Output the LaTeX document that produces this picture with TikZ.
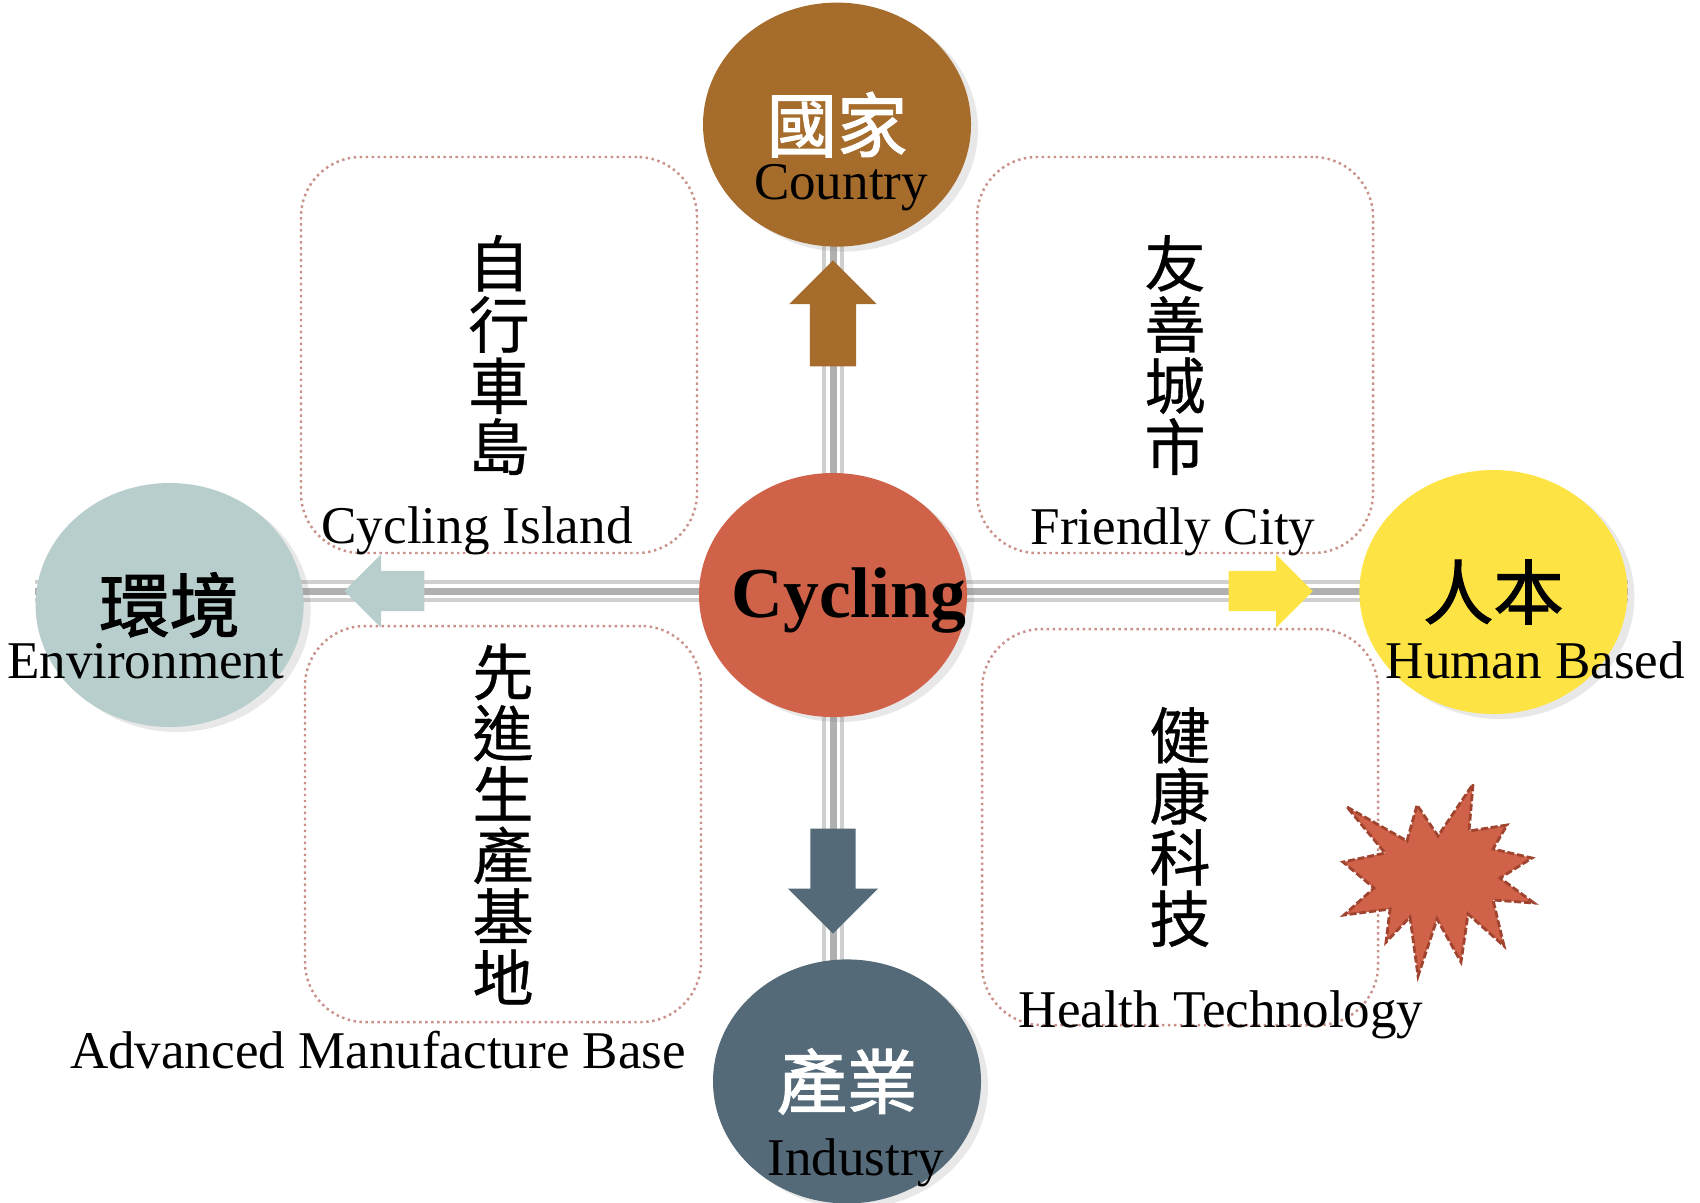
\documentclass[tikz,border=0pt]{standalone}
\usepackage{fontspec}
\setmainfont{Liberation Serif}
\newfontfamily\cjk[FakeBold=0.6]{Noto Sans CJK TC}
\newfontfamily\cjkhub[FakeBold=1.6]{Noto Sans CJK TC}
\usepackage{tikz}
\usetikzlibrary{shapes, shapes.geometric, shapes.arrows, arrows.meta, positioning, backgrounds, shadows}

\definecolor{countrybrown}{RGB}{166,108,44}
\definecolor{cyclingred}{RGB}{207,98,73}
\definecolor{envteal}{RGB}{183,206,205}
\definecolor{humanyellow}{RGB}{253,228,68}
\definecolor{industryslate}{RGB}{84,106,120}
\definecolor{boxline}{RGB}{200,146,138}
\definecolor{burstline}{RGB}{160,68,48}

\tikzset{
    hub/.style={ellipse, minimum width=26.8mm, minimum height=24.4mm, inner sep=0pt,
        font=\cjkhub\fontsize{20}{20}\selectfont,
        drop shadow={shadow xshift=0.7mm, shadow yshift=-0.5mm, opacity=0.18}},
    en/.style={font=\fontsize{15.1}{15.1}\selectfont, anchor=base, inner sep=0pt},
    pillar/.style={draw=boxline, densely dotted, line width=0.7pt, rounded corners=6mm,
        minimum width=39.6mm, minimum height=39.6mm, inner sep=0pt, align=center,
        font=\cjk\fontsize{17.4}{17.4}\selectfont},
    track/.style={draw=gray!38, line width=6.2pt,
        postaction={draw=white, line width=4pt},
        postaction={draw=gray!62, line width=2pt}},
    push/.style={single arrow, single arrow head indent=0pt, anchor=tail},
    burst/.style={fill=cyclingred, draw=burstline, line width=0.8pt, dash pattern=on 2pt off 0.8pt}
}

\begin{document}
\begin{tikzpicture}[x=0.1mm, y=-0.1mm]
    \useasboundingbox (0,0) rectangle (1700,1202);

    % centre and the four directions
    \node [hub, fill=cyclingred] (Cycling) at (833,595) {};
    \node [hub, fill=countrybrown, text=white, above=2.25cm of Cycling, xshift=0.4mm] (Country) {國家};
    \node [hub, fill=industryslate, text=white, below=2.41cm of Cycling, xshift=1.4mm] (Industry) {產業};
    \node [hub, fill=envteal, left=3.94cm of Cycling, yshift=-1mm] (Env) {環境};
    \node [hub, fill=humanyellow, right=3.91cm of Cycling, yshift=0.3mm] (Human) {人本};

    \node [en, font=\bfseries\fontsize{20.4}{20.4}\selectfont] at ([xshift=1.6mm, yshift=-2.2mm]Cycling.center) {Cycling};
    \node [en] at ([xshift=0.4mm, yshift=-7.5mm]Country.center) {Country};
    \node [en] at ([xshift=0.9mm, yshift=-9.4mm]Industry.center) {Industry};
    \node [en] at ([xshift=-2.4mm, yshift=-7.3mm]Env.center) {Environment};
    \node [en] at ([xshift=4.2mm, yshift=-8.6mm]Human.center) {Human Based};

    % block arrows on the tracks
    \node [push, fill=countrybrown, shape border rotate=90, minimum height=10.6mm,
        inner sep=2.25mm, single arrow head extend=2.05mm] (UpArrow) at (833,367) {};
    \node [push, fill=industryslate, shape border rotate=270, minimum height=10.5mm,
        inner sep=2.2mm, single arrow head extend=2.25mm] (DownArrow) at (833,828) {};
    \node [push, fill=envteal, shape border rotate=180, minimum height=8mm,
        inner sep=1.95mm, single arrow head extend=1.65mm] (LeftArrow) at (425,591) {};
    \node [push, fill=humanyellow, minimum height=8.4mm,
        inner sep=1.95mm, single arrow head extend=1.65mm] (RightArrow) at (1228,591) {};

    \begin{scope}[on background layer]
        \draw [track] (Env.west |- LeftArrow.tail) -- (Human.east |- RightArrow.tail);
        \draw [track] (UpArrow.tail |- Country) -- (UpArrow.tail |- Industry);
    \end{scope}

    % the four pillars
    \node [pillar] (IslandBox) at (499,355) {自\\行\\車\\島};
    \node [pillar] (CityBox) at (1175,355) {友\\善\\城\\市};
    \node [pillar] (BaseBox) at (503,824) {先\\進\\生\\產\\基\\地};
    \node [pillar] (HealthBox) at (1180,827) {健\\康\\科\\技};

    \node [en] at (477,543) {Cycling Island};
    \node [en] at (1173,544) {Friendly City};
    \node [en] at (378,1068) {Advanced Manufacture Base};
    \node [en] at (1221,1027) {Health Technology};

    \draw [burst] (1347,807) -- (1407,841) -- (1417,805) -- (1438,836) -- (1473,784)
        -- (1469,831) -- (1507,825) -- (1493,849) -- (1532,858) -- (1500,878)
        -- (1534,903) -- (1493,900) -- (1504,946) -- (1468,914) -- (1461,962)
        -- (1437,919) -- (1418,976) -- (1410,917) -- (1386,942) -- (1390,909)
        -- (1344,915) -- (1374,888) -- (1343,862) -- (1385,853) -- cycle;
\end{tikzpicture}
\end{document}
